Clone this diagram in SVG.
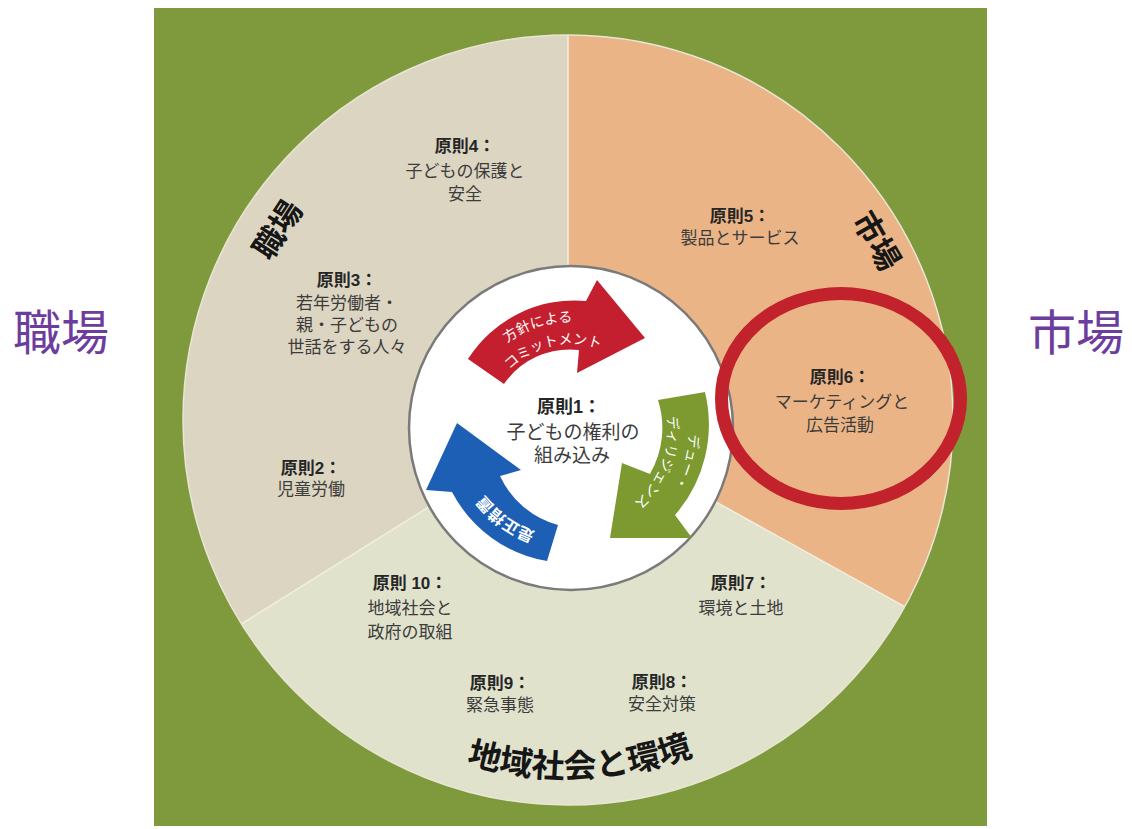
<svg xmlns="http://www.w3.org/2000/svg" width="1132" height="829" viewBox="0 0 1132 829">
<defs>
<style>
.t{font-family:"Liberation Sans","Noto Sans CJK JP",sans-serif;font-size:17px;fill:#3c3c3c;text-anchor:middle}
.b{font-weight:bold;fill:#262626}
.title{font-family:"Liberation Sans","Noto Sans CJK JP",sans-serif;font-weight:bold;fill:#161616;text-anchor:middle}
.side{font-family:"Liberation Sans","Noto Sans CJK JP",sans-serif;font-size:48px;fill:#6d3d9e}
.at{font-family:"Liberation Sans","Noto Sans CJK JP",sans-serif;font-size:14px;fill:#ffffff;text-anchor:middle}
.div{stroke:#f2efe2;stroke-width:1.5;fill:none}
</style>
<path id="pTitle" d="M231.6,542.4 A358,358 0 0 0 912.1,518.7"/>
<path id="pR1" d="M466.3,406.2 A107,107 0 0 1 642.6,349.5"/>
<path id="pR2" d="M489.7,404.1 A85,85 0 0 1 633.2,371.0"/>
<path id="pG1" d="M655.9,346.9 A118,118 0 0 1 599.5,543.5"/>
<path id="pG2" d="M646.4,368.0 A97,97 0 0 1 586.2,524.8"/>
<path id="pB" d="M615.3,528.6 A109,109 0 0 1 462.6,417.6"/>
</defs>
<rect width="1132" height="829" fill="#ffffff"/>
<g id="side-labels">
<text class="side" x="13" y="350">職場</text>
<text class="side" x="1028" y="350">市場</text>
</g>
<g id="frame"><rect x="154" y="8" width="833" height="818" fill="#7f9a3c"/></g>
<g id="sector-market"><path d="M568,420 L568,35 A385,385 0 0 1 904.7,606.6 Z" fill="#ebb487"/></g>
<g id="sector-community"><path d="M568,420 L904.7,606.6 A385,385 0 0 1 241.5,624 Z" fill="#e0e2cc"/></g>
<g id="sector-workplace"><path d="M568,420 L241.5,624 A385,385 0 0 1 568,35 Z" fill="#dcd5c1"/></g>
<g id="dividers">
<path class="div" d="M568,420 L568,35 M568,420 L904.7,606.6 M568,420 L241.5,624"/>
<circle cx="568" cy="420" r="385" fill="none" stroke="#e9e6d6" stroke-width="1.5"/>
</g>
<g id="center-circle">
<circle cx="571" cy="428" r="162" fill="#ffffff" stroke="#7a7a7a" stroke-width="2.5"/>
<text class="t" style="font-size:19px"><tspan class="b" x="569" y="413" style="font-size:18px">原則1：</tspan><tspan x="573" y="439">子どもの権利の</tspan><tspan x="572" y="462">組み込み</tspan></text>
</g>
<g id="connectors">
<g id="arrow-policy">
<path d="M468,359 A126,126 0 0 1 586,301 L597,280 L645,338 L577,373 L579,350 A80,80 0 0 0 504,384 Z" fill="#c41f2e"/>
<text class="at"><textPath href="#pR1" startOffset="50%">方針による</textPath><textPath href="#pR2" startOffset="50%">コミットメント</textPath></text>
</g>
<g id="arrow-diligence">
<path d="M658,400 L705,392 A138,138 0 0 1 675,515 L692,538 L610,538 L622,463 L650,474 A92,92 0 0 0 658,400 Z" fill="#7d9a30"/>
<text class="at"><textPath href="#pG1" startOffset="50%">デュー・</textPath><textPath href="#pG2" startOffset="50%">ディリジェンス</textPath></text>
</g>
<g id="arrow-remedy">
<path d="M558,525 L547,561 A132,132 0 0 1 452,492 L426,490 L457,423 L521,470 L500,476 A90,90 0 0 0 558,525 Z" fill="#1d5fb4"/>
<text class="at" style="font-size:16px;font-weight:bold"><textPath href="#pB" startOffset="50%">是正措置</textPath></text>
</g>
</g>
<g id="title-workplace"><text class="title" x="278" y="230" font-size="31" dominant-baseline="central" transform="rotate(-57 278 230)">職場</text></g>
<g id="title-market"><text class="title" x="876" y="241" font-size="31" dominant-baseline="central" transform="rotate(60 876 241)">市場</text></g>
<g id="title-community"><text class="title" font-size="33"><textPath href="#pTitle" startOffset="50%">地域社会と環境</textPath></text></g>
<g id="p4"><text class="t"><tspan class="b" x="465" y="152">原則4：</tspan><tspan x="465" y="177">子どもの保護と</tspan><tspan x="465" y="200">安全</tspan></text></g>
<g id="p3"><text class="t"><tspan class="b" x="347" y="286">原則3：</tspan><tspan x="347" y="309">若年労働者・</tspan><tspan x="347" y="331">親・子どもの</tspan><tspan x="347" y="353">世話をする人々</tspan></text></g>
<g id="p2"><text class="t"><tspan class="b" x="311" y="474">原則2：</tspan><tspan x="311" y="495">児童労働</tspan></text></g>
<g id="p5"><text class="t"><tspan class="b" x="740" y="222">原則5：</tspan><tspan x="740" y="244">製品とサービス</tspan></text></g>
<g id="p6"><text class="t"><tspan class="b" x="840" y="383">原則6：</tspan><tspan x="842" y="408">マーケティングと</tspan><tspan x="840" y="431">広告活動</tspan></text></g>
<g id="p7"><text class="t"><tspan class="b" x="741" y="589">原則7：</tspan><tspan x="741" y="614">環境と土地</tspan></text></g>
<g id="p8"><text class="t"><tspan class="b" x="662" y="688">原則8：</tspan><tspan x="662" y="710">安全対策</tspan></text></g>
<g id="p9"><text class="t"><tspan class="b" x="500" y="689">原則9：</tspan><tspan x="500" y="711">緊急事態</tspan></text></g>
<g id="p10"><text class="t"><tspan class="b" x="410" y="589">原則 10：</tspan><tspan x="410" y="614">地域社会と</tspan><tspan x="410" y="638">政府の取組</tspan></text></g>
<g id="highlight"><ellipse cx="841" cy="398.5" rx="119.5" ry="105" fill="none" stroke="#c1222b" stroke-width="13"/></g>
</svg>
